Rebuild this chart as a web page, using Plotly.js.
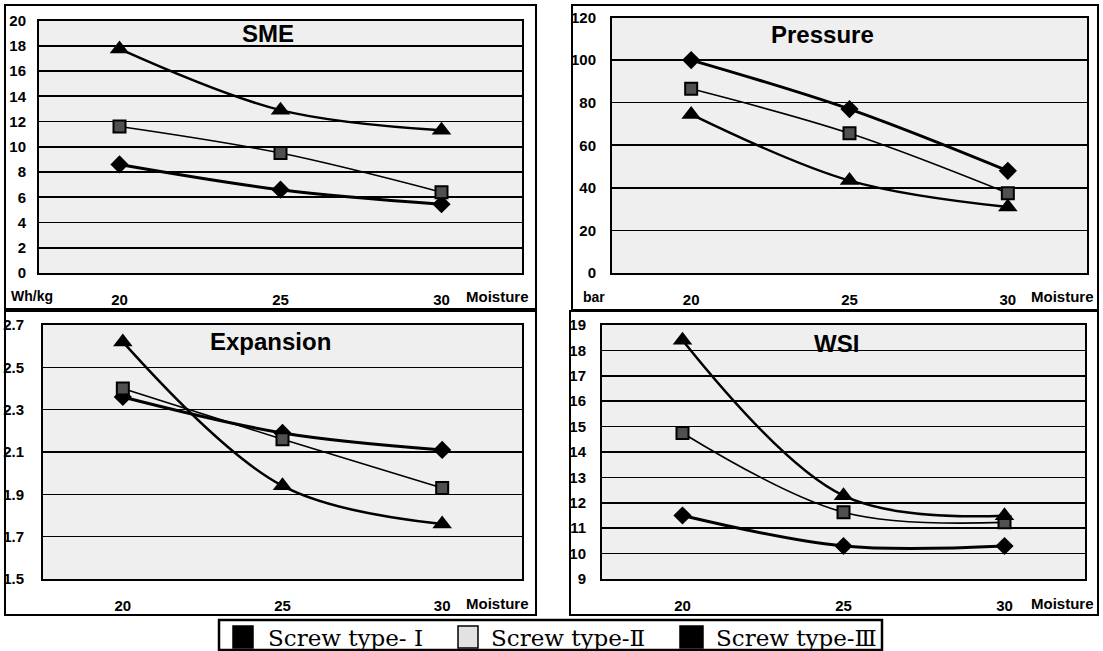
<!DOCTYPE html>
<html>
<head>
<meta charset="utf-8">
<script src="https://cdn.plot.ly/plotly-3.0.1.min.js"></script>
<style>html,body{margin:0;padding:0;background:#fff;}#chart{width:1103px;height:651px;}</style>
</head>
<body>
<div id="chart"></div>
<script>
// ---- data ----
const moisture = ['20', '25', '30'];
const seriesNames = ['Screw type- Ⅰ', 'Screw type-Ⅱ', 'Screw type-Ⅲ'];

const smeI   = [8.6, 6.6, 5.45];
const smeII  = [11.6, 9.5, 6.4];
const smeIII = [17.75, 12.9, 11.3];

const pressureI   = [100, 77, 48];
const pressureII  = [86.5, 65.6, 37.5];
const pressureIII = [74.5, 43.4, 31];

const expansionI   = [2.36, 2.19, 2.11];
const expansionII  = [2.40, 2.16, 1.93];
const expansionIII = [2.62, 1.94, 1.76];

const wsiI   = [11.5, 10.3, 10.3];
const wsiII  = [14.75, 11.63, 11.23];
const wsiIII = [18.4, 12.28, 11.49];

const panelTitles = ['SME', 'Pressure', 'Expansion', 'WSI'];
const unitLabels = ['Wh/kg', 'bar', '', ''];

// ---- layout helpers ----
const W = 1103, H = 651;
const px = x => x / W;
const py = y => 1 - y / H;

const styles = [
  {symbol: 'diamond', size: 14, color: '#000', lw: 3, mw: 0},
  {symbol: 'square', size: 12, color: '#505050', lw: 1.6, mw: 2},
  {symbol: 'triangle-up', size: 17, color: '#000', lw: 2.5, mw: 0}
];

const panels = [
  {data: [smeI, smeII, smeIII], x: [39, 522], y: [20.5, 273], range: [0, 20], dtick: 2, tick0: 0,
   outer: [5, 5, 536, 309], title: [268, 33], unit: [32, 296], moist: [531, 296], standoffY: 8},
  {data: [pressureI, pressureII, pressureIII], x: [612, 1087], y: [17.5, 273], range: [0, 120], dtick: 20, tick0: 0,
   outer: [572, 5, 1098, 310], title: [822, 35], unit: [594, 297], moist: [1096, 296], standoffY: 11},
  {data: [expansionI, expansionII, expansionIII], x: [43, 522], y: [325, 579], range: [1.5, 2.7], dtick: 0.2, tick0: 1.5,
   outer: [5, 311, 536, 615], title: [270, 342], unit: null, moist: [531, 603], standoffY: 14},
  {data: [wsiI, wsiII, wsiIII], x: [602, 1085], y: [325, 579], range: [9, 19], dtick: 1, tick0: 9,
   outer: [570, 311, 1098, 615], title: [836, 343], unit: null, moist: [1096, 603], standoffY: 11}
];

const tickFont = {family: 'Liberation Sans, Arial, sans-serif', size: 15, color: '#000', weight: 'bold'};

const traces = [];
const layout = {
  width: W, height: H,
  margin: {l: 0, r: 0, t: 0, b: 0},
  paper_bgcolor: '#fff',
  plot_bgcolor: '#efefef',
  showlegend: false,
  shapes: [], annotations: []
};

panels.forEach((p, i) => {
  const n = i + 1;
  const xa = 'xaxis' + (n === 1 ? '' : n);
  const ya = 'yaxis' + (n === 1 ? '' : n);
  const xr = 'x' + (n === 1 ? '' : n);
  const yr = 'y' + (n === 1 ? '' : n);
  layout[xa] = {
    type: 'category', range: [-0.5, 2.5], domain: [px(p.x[0]), px(p.x[1])], anchor: yr,
    showgrid: false, showline: true, mirror: true, linecolor: '#000', linewidth: 2,
    ticks: '', tickfont: tickFont, ticklabelstandoff: 12, fixedrange: true, zeroline: false
  };
  layout[ya] = {
    range: p.range, dtick: p.dtick, tick0: p.tick0, domain: [py(p.y[1]), py(p.y[0])], anchor: xr,
    showgrid: true, gridcolor: '#000', gridwidth: 1.6, showline: true, mirror: true,
    linecolor: '#000', linewidth: 2, ticks: '', tickfont: tickFont, ticklabelstandoff: p.standoffY,
    zeroline: false, fixedrange: true
  };
  p.data.forEach((vals, k) => {
    const s = styles[k];
    traces.push({
      type: 'scatter', mode: 'lines+markers', x: moisture, y: vals, name: seriesNames[k],
      xaxis: xr, yaxis: yr, cliponaxis: false,
      line: {color: '#000', width: s.lw, shape: 'spline', smoothing: 1},
      marker: {symbol: s.symbol, size: s.size, color: s.color, line: {color: '#000', width: s.mw}}
    });
  });
  // outer frame
  layout.shapes.push({type: 'rect', xref: 'paper', yref: 'paper',
    x0: px(p.outer[0]), x1: px(p.outer[2]), y0: py(p.outer[3]), y1: py(p.outer[1]),
    line: {color: '#000', width: 2}, layer: 'below'});
  // title
  layout.annotations.push({xref: 'paper', yref: 'paper', x: px(p.title[0]), y: py(p.title[1]),
    text: panelTitles[i], showarrow: false, xanchor: 'center', yanchor: 'middle',
    font: {family: 'Liberation Sans, Arial, sans-serif', size: 24, color: '#000', weight: 'bold'}});
  if (p.unit) {
    layout.annotations.push({xref: 'paper', yref: 'paper', x: px(p.unit[0]), y: py(p.unit[1]),
      text: unitLabels[i], showarrow: false, xanchor: 'center', yanchor: 'middle',
      font: {family: 'Liberation Sans, Arial, sans-serif', size: 14, color: '#000', weight: 'bold'}});
  }
  layout.annotations.push({xref: 'paper', yref: 'paper', x: px(p.moist[0]), y: py(p.moist[1]),
    text: 'Moisture', showarrow: false, xanchor: 'right', yanchor: 'middle',
    font: {family: 'Liberation Sans, Arial, sans-serif', size: 15, color: '#000', weight: 'bold'}});
});

// legend box
layout.shapes.push({type: 'rect', xref: 'paper', yref: 'paper',
  x0: px(219), x1: px(882), y0: py(650), y1: py(620), line: {color: '#000', width: 2.5}, fillcolor: '#fff'});
const legSq = [[233, 253], [458, 478], [680, 703]];
const legFill = ['#000', '#e2e2e2', '#000'];
const legText = [266, 489, 714];
legSq.forEach((s, k) => {
  layout.shapes.push({type: 'rect', xref: 'paper', yref: 'paper',
    x0: px(s[0]), x1: px(s[1]), y0: py(648), y1: py(626),
    line: {color: '#000', width: 1.5}, fillcolor: legFill[k]});
  layout.annotations.push({xref: 'paper', yref: 'paper', x: px(legText[k]), y: py(637.5),
    text: seriesNames[k], showarrow: false, xanchor: 'left', yanchor: 'middle',
    font: {family: 'DejaVu Serif, serif', size: 23, color: '#000'}});
});

Plotly.newPlot('chart', traces, layout, {staticPlot: true, displayModeBar: false});
</script>
</body>
</html>
